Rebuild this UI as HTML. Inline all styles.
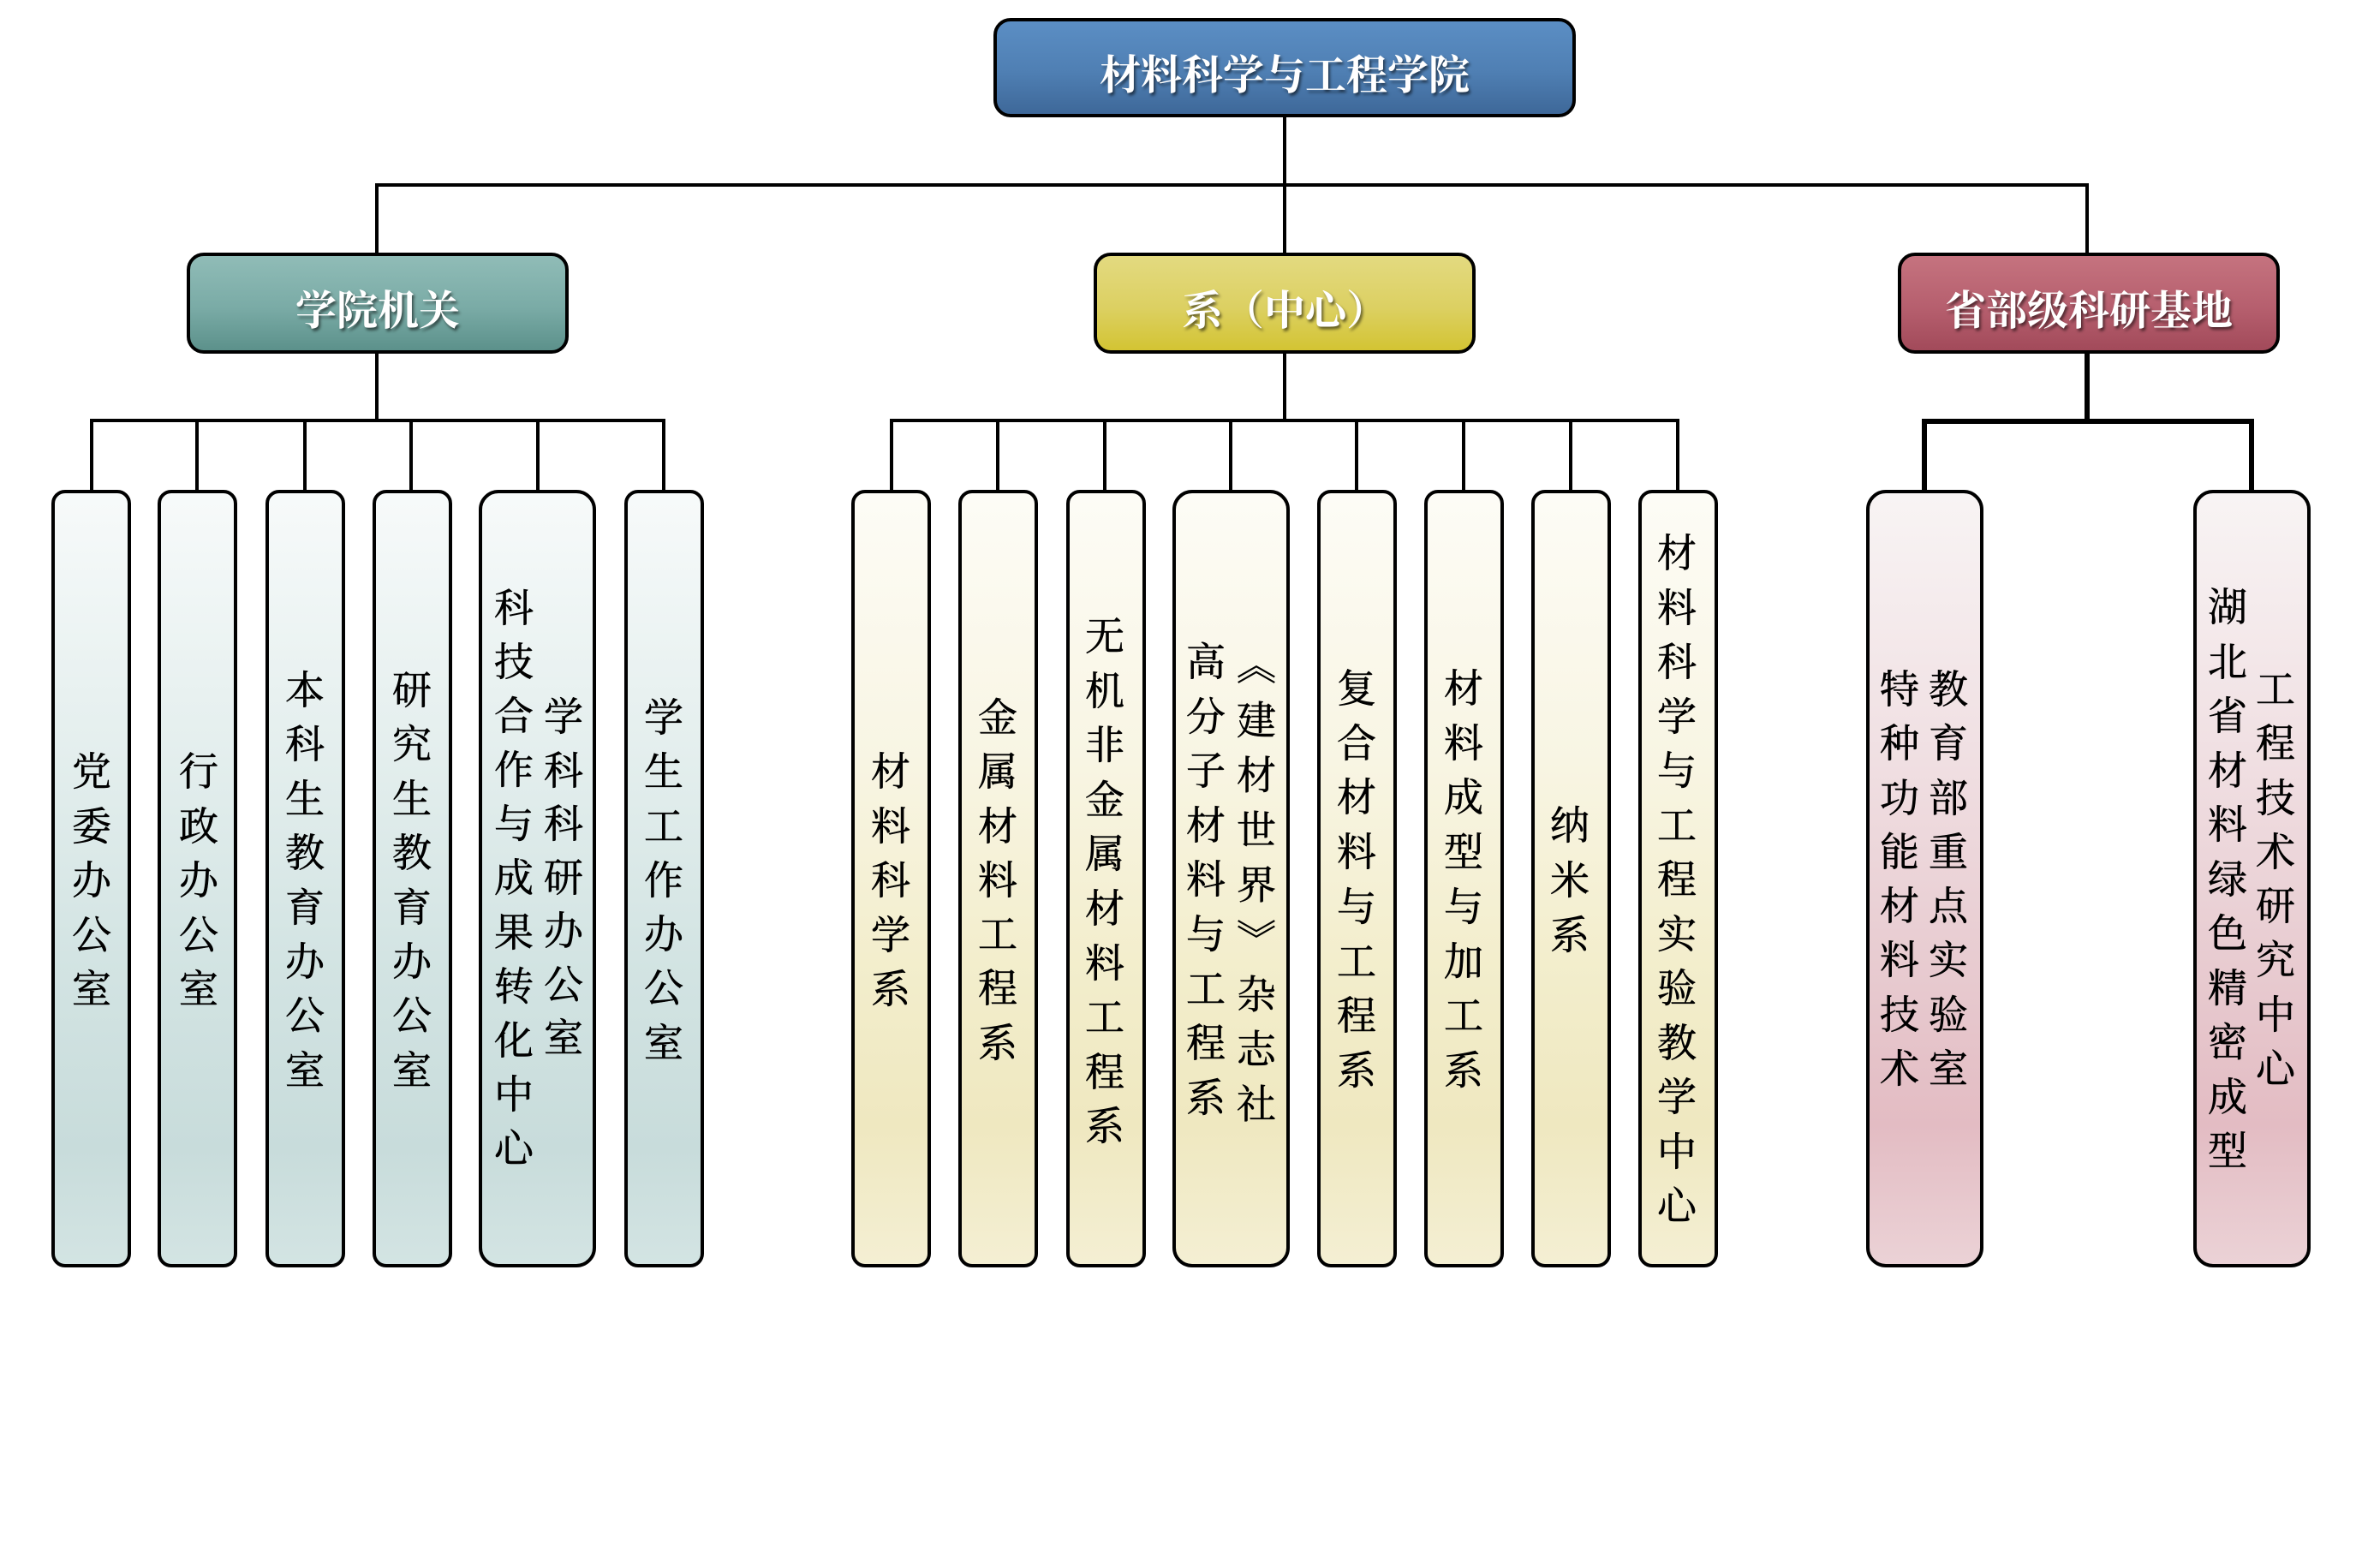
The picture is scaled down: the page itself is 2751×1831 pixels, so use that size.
<!DOCTYPE html>
<html lang="zh">
<head>
<meta charset="utf-8">
<style>
html,body{margin:0;padding:0;background:#fff;}
body{width:2751px;height:1831px;position:relative;overflow:hidden;font-family:"Liberation Serif","Noto Serif CJK SC","Noto Sans CJK SC",serif;}
.ln{position:absolute;background:#000;}
.box{position:absolute;box-sizing:border-box;border:4px solid #000;}
.t{border-radius:20px;display:flex;align-items:center;justify-content:center;color:#fff;font-size:48px;font-weight:bold;text-shadow:2px 3px 3px rgba(0,0,0,0.55);padding-top:8px;white-space:nowrap;}
.c{top:572px;height:908px;}
.n{border-radius:16px;width:93px;}
.w{border-radius:23px;width:137px;}
.teal{background:linear-gradient(#f7fafa 0%,#e3eeed 35%,#d3e4e3 60%,#c8dcdb 85%,#d3e4e3 100%);}
.yel{background:linear-gradient(#fdfcf6 0%,#f8f5e3 35%,#f3eecd 60%,#efe8c0 82%,#f4efd3 100%);}
.pink{background:linear-gradient(#f8f4f4 0%,#f0dfe2 35%,#e8ccd1 60%,#e3bcc3 82%,#ebd2d6 100%);}
.col{position:absolute;width:60px;text-align:center;font-size:46px;color:#000;-webkit-text-stroke:0.6px #000;font-family:"Liberation Serif","Noto Serif CJK SC",serif;}
.vcol{position:absolute;width:60px;line-height:60px;font-size:46px;letter-spacing:18px;color:#000;-webkit-text-stroke:0.6px #000;writing-mode:vertical-rl;text-orientation:mixed;white-space:nowrap;font-family:"Noto Serif CJK SC","Noto Serif CJK JP",serif;}
</style>
</head>
<body>

<!-- connectors -->
<div class="ln" style="left:1498px;top:135px;width:4px;height:162px;"></div>
<div class="ln" style="left:438px;top:214px;width:2001px;height:4px;"></div>
<div class="ln" style="left:438px;top:214px;width:4px;height:83px;"></div>
<div class="ln" style="left:2435px;top:214px;width:4px;height:83px;"></div>

<div class="ln" style="left:438px;top:410px;width:4px;height:83px;"></div>
<div class="ln" style="left:1498px;top:410px;width:4px;height:83px;"></div>
<div class="ln" style="left:2434px;top:410px;width:6px;height:85px;"></div>

<!-- left bus -->
<div class="ln" style="left:105px;top:489px;width:672px;height:4px;"></div>
<div class="ln" style="left:105px;top:489px;width:4px;height:85px;"></div>
<div class="ln" style="left:228px;top:489px;width:4px;height:85px;"></div>
<div class="ln" style="left:354px;top:489px;width:4px;height:85px;"></div>
<div class="ln" style="left:478px;top:489px;width:4px;height:85px;"></div>
<div class="ln" style="left:626px;top:489px;width:4px;height:85px;"></div>
<div class="ln" style="left:773px;top:489px;width:4px;height:85px;"></div>

<!-- middle bus -->
<div class="ln" style="left:1039px;top:489px;width:922px;height:4px;"></div>
<div class="ln" style="left:1039px;top:489px;width:4px;height:85px;"></div>
<div class="ln" style="left:1163px;top:489px;width:4px;height:85px;"></div>
<div class="ln" style="left:1288px;top:489px;width:4px;height:85px;"></div>
<div class="ln" style="left:1435px;top:489px;width:4px;height:85px;"></div>
<div class="ln" style="left:1582px;top:489px;width:4px;height:85px;"></div>
<div class="ln" style="left:1707px;top:489px;width:4px;height:85px;"></div>
<div class="ln" style="left:1832px;top:489px;width:4px;height:85px;"></div>
<div class="ln" style="left:1957px;top:489px;width:4px;height:85px;"></div>

<!-- right bus -->
<div class="ln" style="left:2244px;top:489px;width:388px;height:6px;"></div>
<div class="ln" style="left:2244px;top:489px;width:6px;height:85px;"></div>
<div class="ln" style="left:2626px;top:489px;width:6px;height:85px;"></div>

<!-- title boxes -->
<div class="box t" style="left:1160px;top:21px;width:680px;height:116px;background:linear-gradient(#5b8ec4,#4f7fb3 55%,#3e6899);">材料科学与工程学院</div>
<div class="box t" style="left:218px;top:295px;width:446px;height:118px;background:linear-gradient(#90bcb7,#7aaba6 55%,#5c918b);">学院机关</div>
<div class="box t" style="left:1277px;top:295px;width:446px;height:118px;background:linear-gradient(#e3da80,#dcd062 55%,#d3c433);">系（中心）</div>
<div class="box t" style="left:2216px;top:295px;width:446px;height:118px;background:linear-gradient(#c5737f,#b65f6e 55%,#a24a5a);">省部级科研基地</div>

<!-- child boxes: left -->
<div class="box c n teal" style="left:60px;"></div>
<div class="box c n teal" style="left:184px;"></div>
<div class="box c n teal" style="left:310px;"></div>
<div class="box c n teal" style="left:435px;"></div>
<div class="box c w teal" style="left:559px;"></div>
<div class="box c n teal" style="left:729px;"></div>

<!-- child boxes: middle -->
<div class="box c n yel" style="left:994px;"></div>
<div class="box c n yel" style="left:1119px;"></div>
<div class="box c n yel" style="left:1245px;"></div>
<div class="box c w yel" style="left:1369px;"></div>
<div class="box c n yel" style="left:1538px;"></div>
<div class="box c n yel" style="left:1663px;"></div>
<div class="box c n yel" style="left:1788px;"></div>
<div class="box c n yel" style="left:1913px;"></div>

<!-- child boxes: right -->
<div class="box c w pink" style="left:2179px;"></div>
<div class="box c w pink" style="left:2561px;"></div>

<!-- vertical text columns -->
<div class="col" style="left:77px;top:870px;line-height:63.5px;">党<br>委<br>办<br>公<br>室</div>
<div class="col" style="left:202px;top:870px;line-height:63.5px;">行<br>政<br>办<br>公<br>室</div>
<div class="col" style="left:326px;top:775px;line-height:63.4px;">本<br>科<br>生<br>教<br>育<br>办<br>公<br>室</div>
<div class="col" style="left:451px;top:775px;line-height:63.4px;">研<br>究<br>生<br>教<br>育<br>办<br>公<br>室</div>
<div class="col" style="left:570px;top:679px;line-height:63.1px;">科<br>技<br>合<br>作<br>与<br>成<br>果<br>转<br>化<br>中<br>心</div>
<div class="col" style="left:628px;top:807px;line-height:62.5px;">学<br>科<br>科<br>研<br>办<br>公<br>室</div>
<div class="col" style="left:745px;top:807px;line-height:63.3px;">学<br>生<br>工<br>作<br>办<br>公<br>室</div>

<div class="col" style="left:1010px;top:870px;line-height:63.5px;">材<br>料<br>科<br>学<br>系</div>
<div class="col" style="left:1135px;top:807px;line-height:63.3px;">金<br>属<br>材<br>料<br>工<br>程<br>系</div>
<div class="col" style="left:1260px;top:712px;line-height:63.6px;">无<br>机<br>非<br>金<br>属<br>材<br>料<br>工<br>程<br>系</div>
<div class="col" style="left:1378px;top:742px;line-height:63.6px;">高<br>分<br>子<br>材<br>料<br>与<br>工<br>程<br>系</div>

<div class="vcol" style="left:1437px;top:753px;height:620px;">《建材世界》杂志社</div>

<div class="col" style="left:1554px;top:773px;line-height:63.7px;">复<br>合<br>材<br>料<br>与<br>工<br>程<br>系</div>
<div class="col" style="left:1679px;top:773px;line-height:63.7px;">材<br>料<br>成<br>型<br>与<br>加<br>工<br>系</div>
<div class="col" style="left:1803px;top:933px;line-height:64px;">纳<br>米<br>系</div>
<div class="col" style="left:1928px;top:615px;line-height:63.5px;">材<br>料<br>科<br>学<br>与<br>工<br>程<br>实<br>验<br>教<br>学<br>中<br>心</div>

<div class="col" style="left:2188px;top:774px;line-height:63.3px;">特<br>种<br>功<br>能<br>材<br>料<br>技<br>术</div>
<div class="col" style="left:2245px;top:774px;line-height:63.3px;">教<br>育<br>部<br>重<br>点<br>实<br>验<br>室</div>
<div class="col" style="left:2571px;top:678px;line-height:63.5px;">湖<br>北<br>省<br>材<br>料<br>绿<br>色<br>精<br>密<br>成<br>型</div>
<div class="col" style="left:2627px;top:774px;line-height:63.3px;">工<br>程<br>技<br>术<br>研<br>究<br>中<br>心</div>

</body>
</html>
